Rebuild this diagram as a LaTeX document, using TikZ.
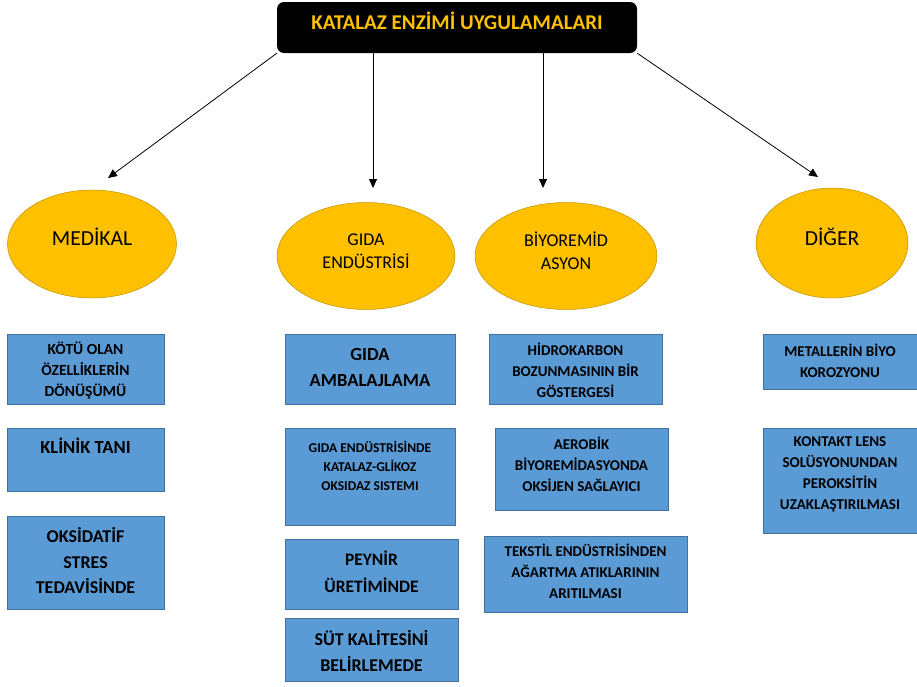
\documentclass[tikz,border=0pt]{standalone}
\usepackage{fontspec}
\setmainfont{Carlito}
\usetikzlibrary{shapes.geometric, arrows.meta}

\definecolor{gold}{HTML}{FFC000}
\definecolor{goldline}{HTML}{C09000}
\definecolor{boxblue}{HTML}{5B9BD5}
\definecolor{boxline}{HTML}{41719C}

\tikzset{
  head/.style = {fill=black, rounded corners=7pt, minimum width=360pt, minimum height=51pt, inner sep=0pt},
  headtxt/.style = {text=gold, font=\bfseries\fontsize{21}{23}\selectfont},
  field/.style = {ellipse, fill=gold, draw=goldline, line width=0.5pt, inner sep=0pt},
  fieldtxt/.style = {align=center, font=\fontsize{18}{23}\selectfont},
  item/.style = {fill=boxblue, draw=boxline, line width=0.8pt, inner sep=0pt},
  itemtxt/.style = {align=center, font=\bfseries\fontsize{15}{21}\selectfont},
  link/.style = {-{Triangle[length=9pt, width=8pt]}, line width=0.8pt}
}

\begin{document}
\begin{tikzpicture}[x=1pt, y=-1pt]
\useasboundingbox (0,0) rectangle (917,686);

\path (457,27.5) node[head] (ttl) {};
\path (457,21) node[headtxt] (ttltxt) {KATALAZ ENZİMİ UYGULAMALARI};

\path (92,244) node[field, minimum width=169pt, minimum height=108pt] (med) {};
\path (92,237) node[fieldtxt, font=\fontsize{21.5}{23}\selectfont] (medtxt) {MEDİKAL};
\path (366,256) node[field, minimum width=178pt, minimum height=107pt] (gida) {};
\path (366,251.5) node[fieldtxt] (gidatxt) {GIDA\\ENDÜSTRİSİ};
\path (566,256) node[field, minimum width=182pt, minimum height=107pt] (biyo) {};
\path (566,251) node[fieldtxt] (biyotxt) {BİYOREMİD\\ASYON};
\path (832,243) node[field, minimum width=152pt, minimum height=110pt] (diger) {};
\path (832,237) node[fieldtxt, font=\fontsize{21.5}{23}\selectfont] (digertxt) {DİĞER};

\coordinate (e1) at (108,178);
\coordinate (e2) at (373,188);
\coordinate (e3) at (543,188);
\coordinate (e4) at (818,177);
\draw[link] (ttl.south west) -- (e1);
\draw[link] (ttl.south -| e2) -- (e2);
\draw[link] (ttl.south -| e3) -- (e3);
\draw[link] (ttl.south east) -- (e4);

\path (85.5,369) node[item, minimum width=157pt, minimum height=70pt] (m1) {};
\path (85.5,370) node[itemtxt, font=\bfseries\fontsize{15.5}{21}\selectfont] (m1txt) {KÖTÜ OLAN\\ÖZELLİKLERİN\\DÖNÜŞÜMÜ};
\path (85.5,459.5) node[item, minimum width=157pt, minimum height=63pt] (m2) {};
\path (85.5,446) node[itemtxt, font=\bfseries\fontsize{18.5}{21}\selectfont] (m2txt) {KLİNİK TANI};
\path (85.5,562.5) node[item, minimum width=157pt, minimum height=93pt] (m3) {};
\path (85.5,561) node[itemtxt, font=\bfseries\fontsize{18}{25.5}\selectfont] (m3txt) {OKSİDATİF\\STRES\\TEDAVİSİNDE};

\path (370,369) node[item, minimum width=170pt, minimum height=70pt] (g1) {};
\path (370,367) node[itemtxt, font=\bfseries\fontsize{18.5}{26}\selectfont] (g1txt) {GIDA\\AMBALAJLAMA};
\path (370,476.5) node[item, minimum width=170pt, minimum height=97pt] (g2) {};
\path (370,465.5) node[itemtxt, font=\bfseries\fontsize{13.5}{19}\selectfont] (g2txt) {GIDA ENDÜSTRİSİNDE\\KATALAZ-GLİKOZ\\OKSIDAZ SISTEMI};
\path (371.5,574) node[item, minimum width=173pt, minimum height=70pt] (g3) {};
\path (371.5,571.5) node[itemtxt, font=\bfseries\fontsize{17.5}{27}\selectfont] (g3txt) {PEYNİR\\ÜRETİMİNDE};
\path (371.5,649.5) node[item, minimum width=173pt, minimum height=63pt] (g4) {};
\path (371.5,651) node[itemtxt, font=\bfseries\fontsize{18}{26}\selectfont] (g4txt) {SÜT KALİTESİNİ\\BELİRLEMEDE};

\path (575.5,369) node[item, minimum width=173pt, minimum height=70pt] (b1) {};
\path (575.5,370.5) node[itemtxt] (b1txt) {HİDROKARBON\\BOZUNMASININ BİR\\GÖSTERGESİ};
\path (581.5,469) node[item, minimum width=173pt, minimum height=82pt] (b2) {};
\path (581.5,464) node[itemtxt] (b2txt) {AEROBİK\\BİYOREMİDASYONDA\\OKSİJEN SAĞLAYICI};
\path (585.5,574) node[item, minimum width=203pt, minimum height=76pt] (b3) {};
\path (585.5,571) node[itemtxt] (b3txt) {TEKSTİL ENDÜSTRİSİNDEN\\AĞARTMA ATIKLARININ\\ARITILMASI};

\path (840,361.5) node[item, minimum width=154pt, minimum height=55pt] (d1) {};
\path (840,361) node[itemtxt] (d1txt) {METALLERİN BİYO\\KOROZYONU};
\path (840,480.5) node[item, minimum width=154pt, minimum height=105pt] (d2) {};
\path (840,474.5) node[itemtxt] (d2txt) {KONTAKT LENS\\SOLÜSYONUNDAN\\PEROKSİTİN\\UZAKLAŞTIRILMASI};
\end{tikzpicture}
\end{document}
